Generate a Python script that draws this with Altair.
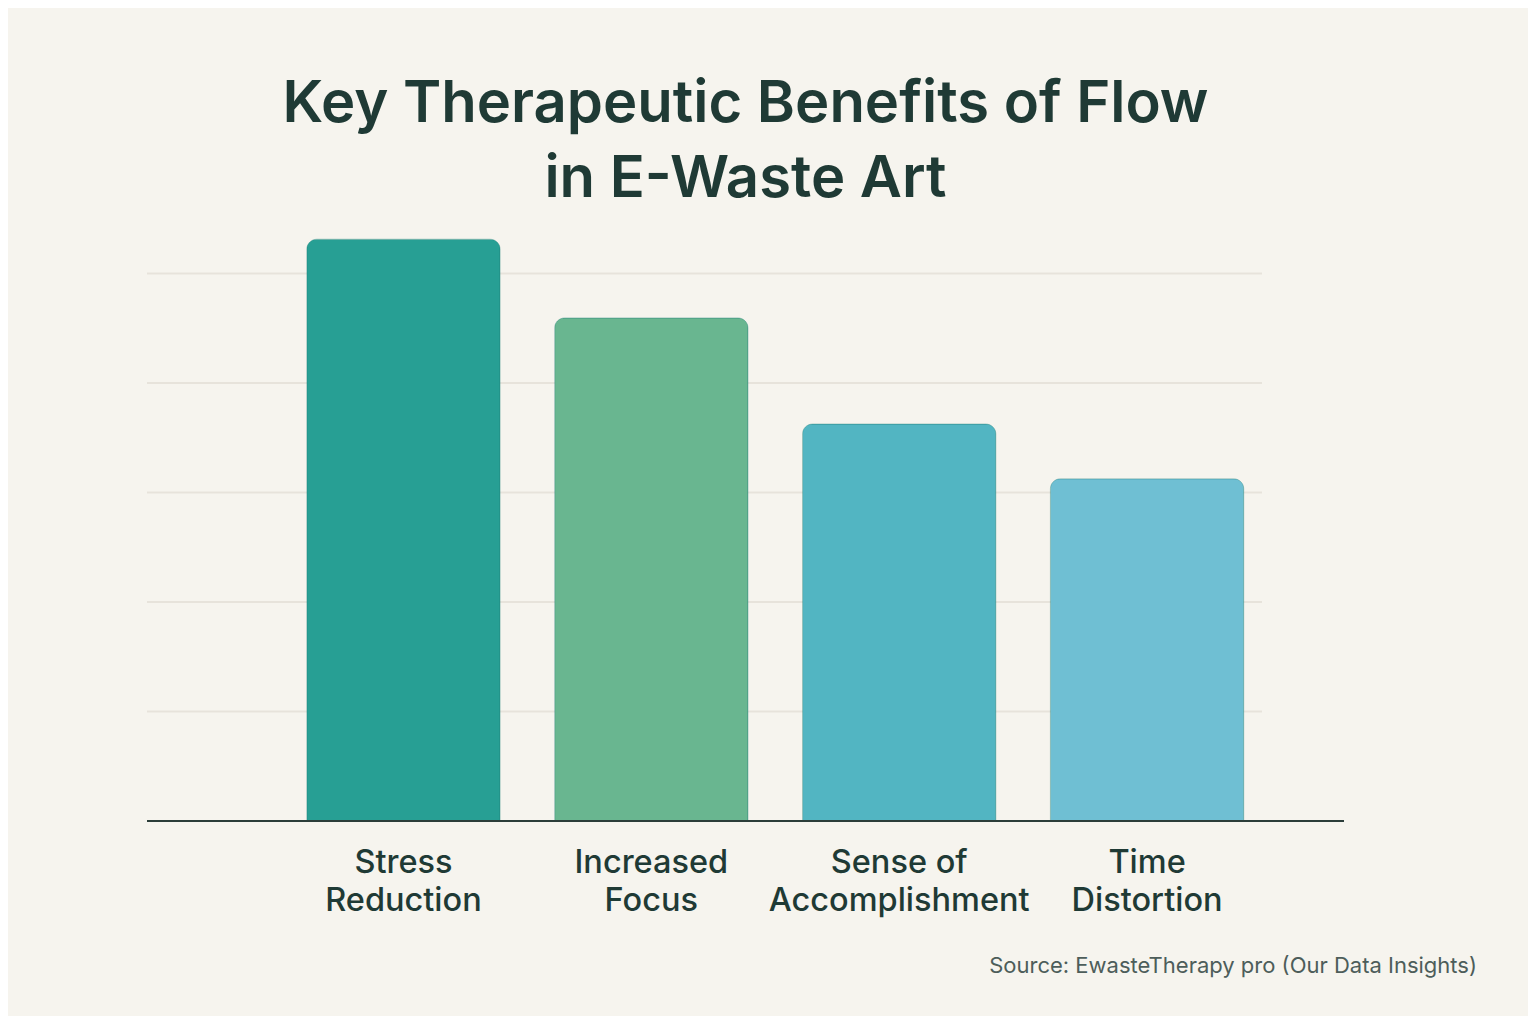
import altair as alt
import pandas as pd

categories = ["Stress Reduction", "Increased Focus", "Sense of Accomplishment", "Time Distortion"]
label_lines = [["Stress", "Reduction"], ["Increased", "Focus"], ["Sense of", "Accomplishment"], ["Time", "Distortion"]]
values = [85, 73.5, 58, 50]
bar_colors = ["#279f94", "#69b690", "#52b5c2", "#6fbfd3"]
grid_values = [16, 32, 48, 64, 80]
title_lines = ["Key Therapeutic Benefits of Flow", "in E-Waste Art"]
source_text = ["Source: EwasteTherapy pro (Our Data Insights)"]

W, H = 1197, 616
FONT = "Inter"
DARK = "#1f3a35"

df = pd.DataFrame({"category": categories, "value": values, "color": bar_colors})
grid_df = pd.DataFrame({"value": grid_values})
src_df = pd.DataFrame({"t": source_text})
base_df = pd.DataFrame({"value": [0]})

label_expr = ""
for c, lines in zip(categories, label_lines):
    arr = "[" + ", ".join("'" + s + "'" for s in lines) + "]"
    label_expr += f"datum.value == '{c}' ? {arr} : "
label_expr += "datum.label"

yscale = alt.Scale(domain=[0, 90], nice=False, zero=True)

grid = alt.Chart(grid_df).mark_rule(color="#e7e3db", strokeWidth=2).encode(
    y=alt.Y("value:Q", scale=yscale, axis=None),
    x=alt.value(0),
    x2=alt.value(1115),
)

bars = alt.Chart(df).mark_bar(
    cornerRadiusTopLeft=10, cornerRadiusTopRight=10,
    stroke="#1d7f76", strokeWidth=1, strokeOpacity=0.35,
).encode(
    x=alt.X(
        "category:N",
        sort=categories,
        scale=alt.Scale(range=[132.5, 1124], paddingInner=0.22, paddingOuter=0.11),
        axis=alt.Axis(
            title=None,
            labelAngle=0,
            labelExpr=label_expr,
            labelFont=FONT,
            labelFontSize=32.5,
            labelFontWeight=500,
            labelColor=DARK,
            labelLineHeight=38,
            labelPadding=25,
            labelBaseline="top",
            labelLimit=0,
            ticks=False,
            domain=False,
        ),
    ),
    y=alt.Y("value:Q", scale=yscale, axis=None),
    color=alt.Color("color:N", scale=None, legend=None),
)

baseline = alt.Chart(base_df).mark_rule(color="#2b3d39", strokeWidth=2).encode(
    y=alt.Y("value:Q", scale=yscale, axis=None),
    x=alt.value(0),
    x2=alt.value(W),
)

source = alt.Chart(src_df).mark_text(
    align="right", baseline="middle", fontSize=22, font=FONT, color="#4d5d5a"
).encode(text="t:N", x=alt.value(1330), y=alt.value(761))

chart = alt.layer(grid, bars, baseline, source).properties(
    width=W,
    height=H,
    title=alt.TitleParams(
        text=title_lines,
        font=FONT,
        fontSize=58,
        fontWeight=600,
        color=DARK,
        anchor="middle",
        lineHeight=75,
        offset=-4,
    ),
    autosize=alt.AutoSizeParams(type="none"),
    padding={"left": 139, "top": 197, "right": 184, "bottom": 195},
).configure(background="#f6f4ee").configure_view(stroke=None)

chart.save("out.html", embed_options={"renderer": "svg", "actions": False})
